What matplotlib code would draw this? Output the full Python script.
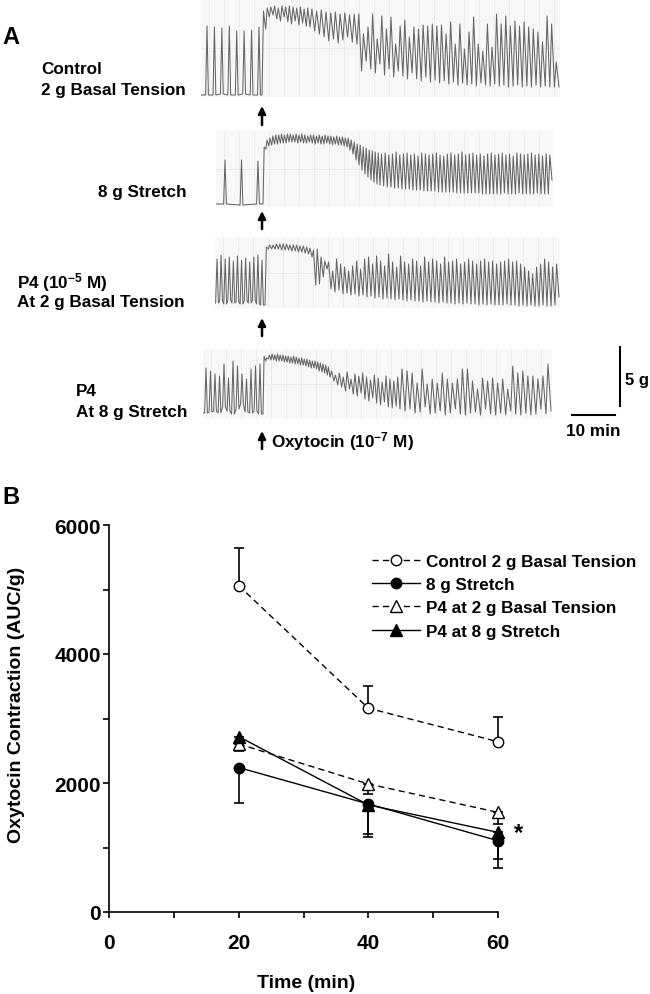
import numpy as np
import matplotlib
matplotlib.use("Agg")
import matplotlib.pyplot as plt
from matplotlib.ticker import MultipleLocator

plt.rcParams['font.family'] = ['Liberation Sans', 'DejaVu Sans']
plt.rcParams['font.weight'] = 'bold'
plt.rcParams['mathtext.fontset'] = 'custom'
plt.rcParams['mathtext.rm'] = 'Liberation Sans:bold'
plt.rcParams['mathtext.default'] = 'rm'

# ---------------- panel B data ----------------
times = [20, 40, 60]
series_names = ['Control 2 g Basal Tension', '8 g Stretch',
                'P4 at 2 g Basal Tension', 'P4 at 8 g Stretch']
ctrl_2g = [5060, 3160, 2640]
ctrl_2g_err = [580, 350, 380]          # drawn upward
stretch_8g = [2240, 1675, 1105]
stretch_8g_err = [555, 505, 425]       # drawn downward
p4_2g = [2605, 1985, 1545]
p4_2g_err = [105, 155, 180]
p4_8g = [2720, 1660, 1235]
p4_8g_err = [180, 450, 415]

# ---------------- panel A traces ----------------
# values = pen position measured down from the top of each record strip
t1_pre_peak = [27, 28, 29, 27, 32, 32, 31, 28]
t1_pre_base = [96, 96, 95, 96, 96, 95, 96, 96]
t1_ends = [109, 156, 358]
t1_peak = [[12, 9, 8, 7, 9, 7, 8, 7, 8, 9, 8, 10, 9],
           [10, 12, 11, 13, 14, 13, 15, 14, 16, 15],
           [15, 35, 28, 15, 40, 17, 30, 18, 45, 27, 21, 38, 28, 30, 26, 27, 25, 27, 26, 35,
            23, 45, 25, 50, 33, 18, 45, 52, 25, 48, 15, 25, 17, 27, 22, 27, 23, 28, 30, 33,
            43, 17, 25, 63]]
t1_trough = [[30, 18, 16, 20, 22, 18, 23, 25, 22, 26, 24, 27, 28],
             [32, 35, 38, 42, 40, 44, 41, 38, 43, 45],
             [72, 62, 70, 74, 65, 76, 70, 78, 72, 77, 80, 74, 80, 82, 78, 83, 81, 84, 82, 85,
              83, 86, 84, 86, 85, 87, 84, 86, 87, 85, 87, 86, 88, 87, 86, 88, 87, 88, 86, 88,
              87, 88, 88, 88]]

t2_pre_peak = [30, 30, 31]
t2_pre_base = [74, 75, 74]
t2_ends = [134, 164, 336]
t2_peak = [[17, 10, 8, 6, 5, 5, 4, 5, 4, 4, 5, 4, 5, 4, 5, 6, 5, 5, 6, 5,
            6, 5, 6, 6, 7, 6, 7, 7, 8, 8],
           [10, 12, 14, 15, 17, 18, 20, 21, 22, 23],
           [24, 23, 25, 24, 22, 25, 24, 23, 25, 24, 26, 23, 24, 25, 24, 23, 25, 26, 24, 23,
            25, 24, 22, 25, 24, 23, 25, 24, 26, 24, 23, 25, 24, 23, 25, 24, 26, 23, 24, 25,
            24, 23, 25, 24, 26, 24, 25]]
t2_trough = [[19, 16, 15, 14, 14, 13, 13, 13, 12, 12, 12, 13, 12, 13, 13, 12, 13, 14, 13, 14,
              14, 13, 14, 15, 14, 15, 15, 16, 17, 20],
             [24, 30, 35, 40, 44, 47, 50, 52, 54, 55],
             [56, 57, 57, 58, 58, 59, 59, 59, 60, 60, 60, 61, 61, 61, 61, 62, 62, 62, 62, 62,
              63, 63, 63, 63, 63, 63, 63, 64, 64, 64, 64, 64, 64, 63, 64, 64, 64, 63, 64, 64,
              64, 64, 63, 64, 64, 64, 50]]

t3_pre_peak = [22, 18, 22, 20, 24, 19, 23, 21, 25, 20, 18, 23]
t3_pre_base = [66, 64, 67, 63, 66, 65, 67, 64, 66, 63, 67, 68]
t3_ends = [97, 112, 344]
t3_peak = [[10, 8, 8, 7, 7, 7, 7, 8, 8, 8, 9, 9, 10, 11],
           [13, 12, 20, 24],
           [25, 34, 22, 27, 30, 34, 29, 24, 32, 22, 20, 27, 19, 24, 29, 17, 25, 30, 19, 25,
            27, 22, 24, 29, 20, 25, 22, 24, 27, 20, 25, 24, 22, 27, 25, 22, 24, 27, 24, 22,
            25, 24, 27, 25, 24, 22, 25, 24, 27, 30, 34, 37, 30, 27, 22, 25, 30, 27]]
t3_trough = [[12, 12, 12, 12, 13, 13, 13, 14, 14, 15, 15, 16, 17, 20],
             [48, 47, 40, 32],
             [52, 55, 53, 57, 56, 58, 57, 59, 58, 60, 59, 61, 60, 62, 61, 62, 63, 62, 63, 64,
              63, 64, 64, 65, 64, 65, 65, 66, 65, 66, 66, 67, 66, 67, 66, 67, 67, 68, 67, 68,
              67, 68, 68, 68, 67, 68, 68, 69, 68, 69, 68, 69, 69, 68, 69, 69, 68, 60]]

t4_pre_peak = [19, 22, 25, 27, 15, 29, 12, 17, 25, 30, 20, 17, 15]
t4_pre_base = [64, 63, 62, 64, 58, 62, 65, 60, 55, 63, 64, 62, 65]
t4_ends = [127, 197, 348]
t4_peak = [[7, 9, 6, 5, 6, 5, 6, 6, 7, 7, 8, 7, 8, 9, 9, 10, 10, 11, 12, 12,
            13, 14, 15, 16, 18],
           [22, 26, 24, 28, 23, 30, 25, 27, 24, 28, 31, 26, 29, 33, 27, 30, 32, 28],
           [20, 22, 24, 34, 20, 35, 30, 34, 24, 30, 34, 30, 20, 20, 32, 40, 29, 32, 29, 34,
            30, 40, 17, 24, 22, 27, 27, 30, 27, 15]]
t4_trough = [[12, 10, 11, 11, 12, 12, 12, 13, 13, 14, 14, 15, 15, 16, 16, 17, 18, 19, 19, 20,
              22, 23, 24, 26, 28],
             [32, 36, 38, 42, 40, 45, 47, 44, 50, 52, 49, 54, 56, 53, 58, 59, 57, 60],
             [62, 60, 64, 63, 58, 65, 64, 62, 66, 64, 60, 65, 66, 64, 63, 66, 60, 65, 66, 64,
              66, 62, 65, 66, 64, 66, 65, 60, 65, 62]]

trace_labels = [['Control', '2 g Basal Tension'], ['8 g Stretch'],
                ['P4 (10$^{-5}$ M)', 'At 2 g Basal Tension'], ['P4', 'At 8 g Stretch']]

W_PX, H_PX = 650, 995


def px_rect(left, top, w, h):
    return [left / W_PX, 1 - (top + h) / H_PX, w / W_PX, h / H_PX]


def build_trace(pre_span, pre_peak, pre_base, t_add, ends, peaks, troughs):
    xs = [0.0]
    ys = [pre_base[0]]
    for x, p, b in zip(np.linspace(pre_span[0], pre_span[1], len(pre_peak)), pre_peak, pre_base):
        xs += [x - 1.4, x, x + 1.4]
        ys += [b, p, b]
    xs.append(t_add)
    ys.append(pre_base[-1])
    start = t_add
    for end, pk, tr in zip(ends, peaks, troughs):
        step = (end - start) / len(pk)
        for i, (p, t) in enumerate(zip(pk, tr)):
            xs += [start + step * (i + 0.4), start + step * (i + 1)]
            ys += [p, t]
        start = end
    return xs, ys


fig = plt.figure(figsize=(6.5, 9.95), dpi=100)
fig.patch.set_facecolor('white')

over = fig.add_axes([0, 0, 1, 1])
over.set_xlim(0, W_PX)
over.set_ylim(H_PX, 0)
over.axis('off')

# strip layout: left, top, width, height (px), oxytocin point, pre-peak span
strips = [((201, 0, 359, 98), 61, (6, 58)),
          ((216, 131, 337, 77), 47, (9, 42)),
          ((215, 238, 345, 71), 50, (2, 47)),
          ((203, 350, 349, 70), 60, (3, 57))]
trace_data = [(t1_pre_peak, t1_pre_base, t1_ends, t1_peak, t1_trough),
              (t2_pre_peak, t2_pre_base, t2_ends, t2_peak, t2_trough),
              (t3_pre_peak, t3_pre_base, t3_ends, t3_peak, t3_trough),
              (t4_pre_peak, t4_pre_base, t4_ends, t4_peak, t4_trough)]

for (box, t_add, span), (pp, pb, ends, pk, tr) in zip(strips, trace_data):
    ax = fig.add_axes(px_rect(*box))
    ax.set_facecolor('#f7f7f7')
    ax.set_xlim(0, box[2])
    ax.set_ylim(box[3], 0)
    ax.set_xticks(np.arange(8, box[2], 15))
    ax.set_yticks([box[3] / 2])
    ax.grid(True, color='#e6e6e6', lw=0.5)
    ax.tick_params(length=0, labelbottom=False, labelleft=False)
    for s in ax.spines.values():
        s.set_visible(False)
    xs, ys = build_trace(span, pp, pb, t_add, ends, pk, tr)
    ax.plot(xs, ys, color='#666666', lw=0.75)

# labels of the strips
label_pos = [(41, [69, 90]), (98, [193]), (17, [283, 303]), (76, [392, 412])]
for (x, ys), lines in zip(label_pos, trace_labels):
    for y, t in zip(ys, lines):
        over.text(x, y, t, fontsize=12.3, fontweight='bold', ha='left', va='center')

# oxytocin arrows
for y0, y1 in [(126, 107), (230, 212), (337, 319), (450, 432)]:
    over.annotate('', xy=(262, y1), xytext=(262, y0),
                  arrowprops=dict(arrowstyle='-|>', color='black', lw=1.8,
                                  mutation_scale=11, shrinkA=0, shrinkB=0))
over.text(271, 442, 'Oxytocin (10$^{-7}$ M)', fontsize=12.3, fontweight='bold',
          ha='left', va='center')

# scale bars
over.plot([620, 620], [348, 407], color='black', lw=1.5)
over.text(625, 380, '5 g', fontsize=12, fontweight='bold', ha='left', va='center')
over.plot([572, 615], [416, 416], color='black', lw=1.5)
over.text(593, 432, '10 min', fontsize=12.3, fontweight='bold', ha='center', va='center')

over.text(2, 37, 'A', fontsize=17, fontweight='bold', ha='left', va='center')
over.text(2, 497, 'B', fontsize=17, fontweight='bold', ha='left', va='center')

# ---------------- panel B ----------------
axB = fig.add_axes(px_rect(109, 526, 389, 387))
axB.set_xlim(0, 60)
axB.set_ylim(0, 6000)
for s in ['top', 'right']:
    axB.spines[s].set_visible(False)
for s in ['left', 'bottom']:
    axB.spines[s].set_linewidth(1.2)
axB.xaxis.set_major_locator(MultipleLocator(20))
axB.xaxis.set_minor_locator(MultipleLocator(10))
axB.yaxis.set_major_locator(MultipleLocator(2000))
axB.yaxis.set_minor_locator(MultipleLocator(1000))
axB.tick_params(which='both', direction='out', length=4, width=1.2)
axB.tick_params(axis='y', labelsize=15, pad=2)
axB.tick_params(axis='x', labelsize=15, pad=11)
for lab in axB.get_xticklabels() + axB.get_yticklabels():
    lab.set_fontweight('bold')

dash = (0, (4.5, 3))
ekw = dict(fmt='none', ecolor='black', elinewidth=1.2, capsize=3.5, capthick=1.2,
           zorder=2, clip_on=False)
axB.errorbar(times, ctrl_2g, yerr=[[0, 0, 0], ctrl_2g_err], **ekw)
axB.errorbar(times, stretch_8g, yerr=[stretch_8g_err, [0, 0, 0]], **ekw)
axB.errorbar(times, p4_2g, yerr=[p4_2g_err, [0, 0, 0]], **ekw)
axB.errorbar(times, p4_8g, yerr=[p4_8g_err, [0, 0, 0]], **ekw)

styles = [(ctrl_2g, 'o', 'white', dash, 7.5),
          (stretch_8g, 'o', 'black', '-', 7.5),
          (p4_2g, '^', 'white', dash, 8),
          (p4_8g, '^', 'black', '-', 8)]
handles = []
for vals, m, fc, ls, ms in styles:
    h, = axB.plot(times, vals, color='black', lw=1.0, linestyle=ls, marker=m,
                  markersize=ms, markerfacecolor=fc, markeredgecolor='black',
                  markeredgewidth=1.0, zorder=3, clip_on=False)
    handles.append(h)

axB.legend(handles, series_names, loc='upper left', bbox_to_anchor=(372 / W_PX, 1 - 555 / H_PX),
           bbox_transform=fig.transFigure, frameon=False, handlelength=2.8,
           handletextpad=0.35, labelspacing=0.48, borderpad=0, borderaxespad=0, numpoints=1,
           prop={'weight': 'bold', 'size': 12.3})

over.text(519, 834, '*', fontsize=17, fontweight='bold', ha='center', va='center')
over.text(17, 705, 'Oxytocin Contraction (AUC/g)', fontsize=14, fontweight='bold',
          rotation=90, ha='center', va='center')
over.text(306, 983, 'Time (min)', fontsize=14, fontweight='bold', ha='center', va='center')

fig.savefig('out.png', dpi=100, facecolor='white')
